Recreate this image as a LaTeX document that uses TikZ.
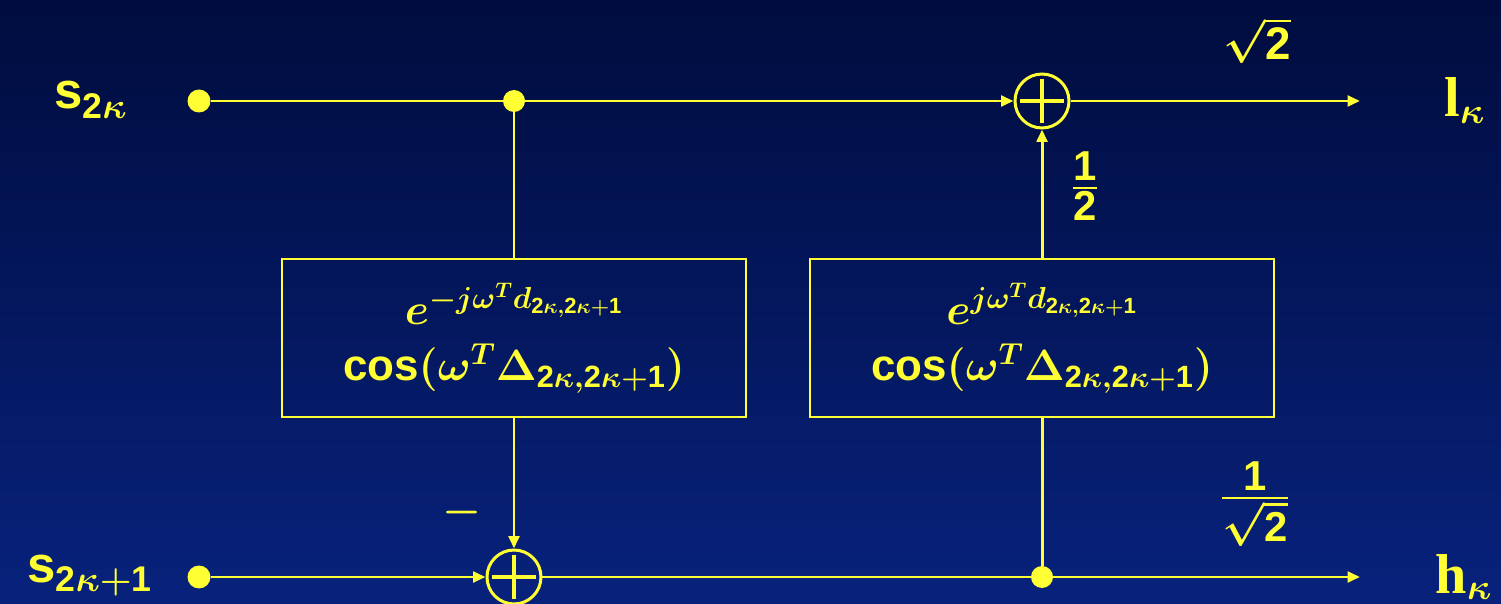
\documentclass[tikz,border=0pt]{standalone}
\usepackage{amsmath}
\usepackage{fontspec}
\setsansfont{Liberation Sans}
\newfontfamily\tms{Liberation Serif}
\usetikzlibrary{arrows.meta}
\definecolor{ylw}{RGB}{255,255,51}
\definecolor{bgtop}{RGB}{0,12,62}
\definecolor{bgbot}{RGB}{8,34,124}
\newcommand{\hv}[1]{\text{\sffamily\bfseries #1}}
\newcommand{\tb}[1]{\text{\tms\bfseries #1}}
\begin{document}
\begin{tikzpicture}[x=0.02cm,y=-0.02cm,
  every node/.style={text=ylw},
  conn/.style={draw=ylw,line width=1.7pt},
  arr/.style={conn,-{Triangle[length=7pt,width=6pt]}},
  dot/.style={circle,fill=ylw,inner sep=0pt,minimum size=0.46cm},
  adder/.style={circle,draw=ylw,line width=1.7pt,minimum size=1.08cm,inner sep=0pt,
    path picture={\draw[ylw,line width=2.6pt]
      ([yshift=-0.44cm]path picture bounding box.center) -- ([yshift=0.44cm]path picture bounding box.center)
      ([xshift=-0.44cm]path picture bounding box.center) -- ([xshift=0.44cm]path picture bounding box.center);}},
  blk/.style={draw=ylw,line width=1.6pt,minimum width=9.28cm,minimum height=3.16cm,align=center,inner sep=0pt,
    font=\fontsize{25}{30}\selectfont\boldmath},
  lbl/.style={font=\fontsize{29}{32}\selectfont\boldmath,inner sep=0pt},
  frc/.style={font=\fontsize{25}{30}\selectfont\boldmath,inner sep=0pt},
  tfr/.style={font=\fontsize{34}{38}\selectfont\boldmath,inner sep=0pt}]
\fill[top color=bgtop,bottom color=bgbot] (0,0) rectangle (1501,604);
\useasboundingbox (0,0) rectangle (1501,604);

\node[dot] (in0) at (199,101) {};
\node[dot] (in1) at (199,577) {};
\node[dot,minimum size=0.44cm] (j0) at (514,101) {};
\node[dot,minimum size=0.44cm] (j1) at (1042,577) {};
\node[adder] (a0) at (1042,101) {};
\node[adder] (a1) at (514,577) {};
\node[blk] (b0) at (514,338) {$e^{-j\omega^{T}d_{\hv{2}\kappa,\hv{2}\kappa+\hv{1}}}$\\[2pt]$\hv{cos}(\omega^{T}\Delta_{\hv{2}\kappa,\hv{2}\kappa+\hv{1}})$};
\node[blk] (b1) at (1042,338) {$e^{j\omega^{T}d_{\hv{2}\kappa,\hv{2}\kappa+\hv{1}}}$\\[2pt]$\hv{cos}(\omega^{T}\Delta_{\hv{2}\kappa,\hv{2}\kappa+\hv{1}})$};
\coordinate (o0) at (1360,101);
\coordinate (o1) at (1360,577);

\draw[conn] (in0) -- (j0);
\draw[arr] (j0) -- (a0);
\draw[arr] (a0) -- (o0);
\draw[conn] (j0) -- (b0);
\draw[arr] (b0) -- (a1);
\draw[arr] (in1) -- (a1);
\draw[conn] (a1) -- (j1);
\draw[arr] (j1) -- (o1);
\draw[conn] (j1) -- (b1);
\draw[arr] (b1) -- (a0);

\node[lbl,anchor=base] (ls0) at (91,109) {$\hv{s}_{\hv{2}\kappa}$};
\node[lbl,anchor=base] (ls1) at (90,582) {$\hv{s}_{\hv{2}\kappa+\hv{1}}$};
\node[lbl,font=\fontsize{32}{34}\selectfont\boldmath,anchor=base] (ll) at (1465,117) {$\tb{l}_{\kappa}$};
\node[lbl,font=\fontsize{32}{34}\selectfont\boldmath,anchor=base] (lh) at (1464,593) {$\tb{h}_{\kappa}$};
\node[frc,font=\fontsize{26}{30}\selectfont\boldmath,anchor=base] (r2) at (1257,60) {$\sqrt{\hv{2}}$};
\node[tfr] (half) at (1085,186) {$\tfrac{\hv{1}}{\hv{2}}$};
\node[tfr] (ir2) at (1255,504) {$\tfrac{\hv{1}}{\sqrt{\hv{2}}}$};
\node[frc,font=\fontsize{27}{30}\selectfont\boldmath] (mn) at (462,513) {$-$};
\end{tikzpicture}
\end{document}
